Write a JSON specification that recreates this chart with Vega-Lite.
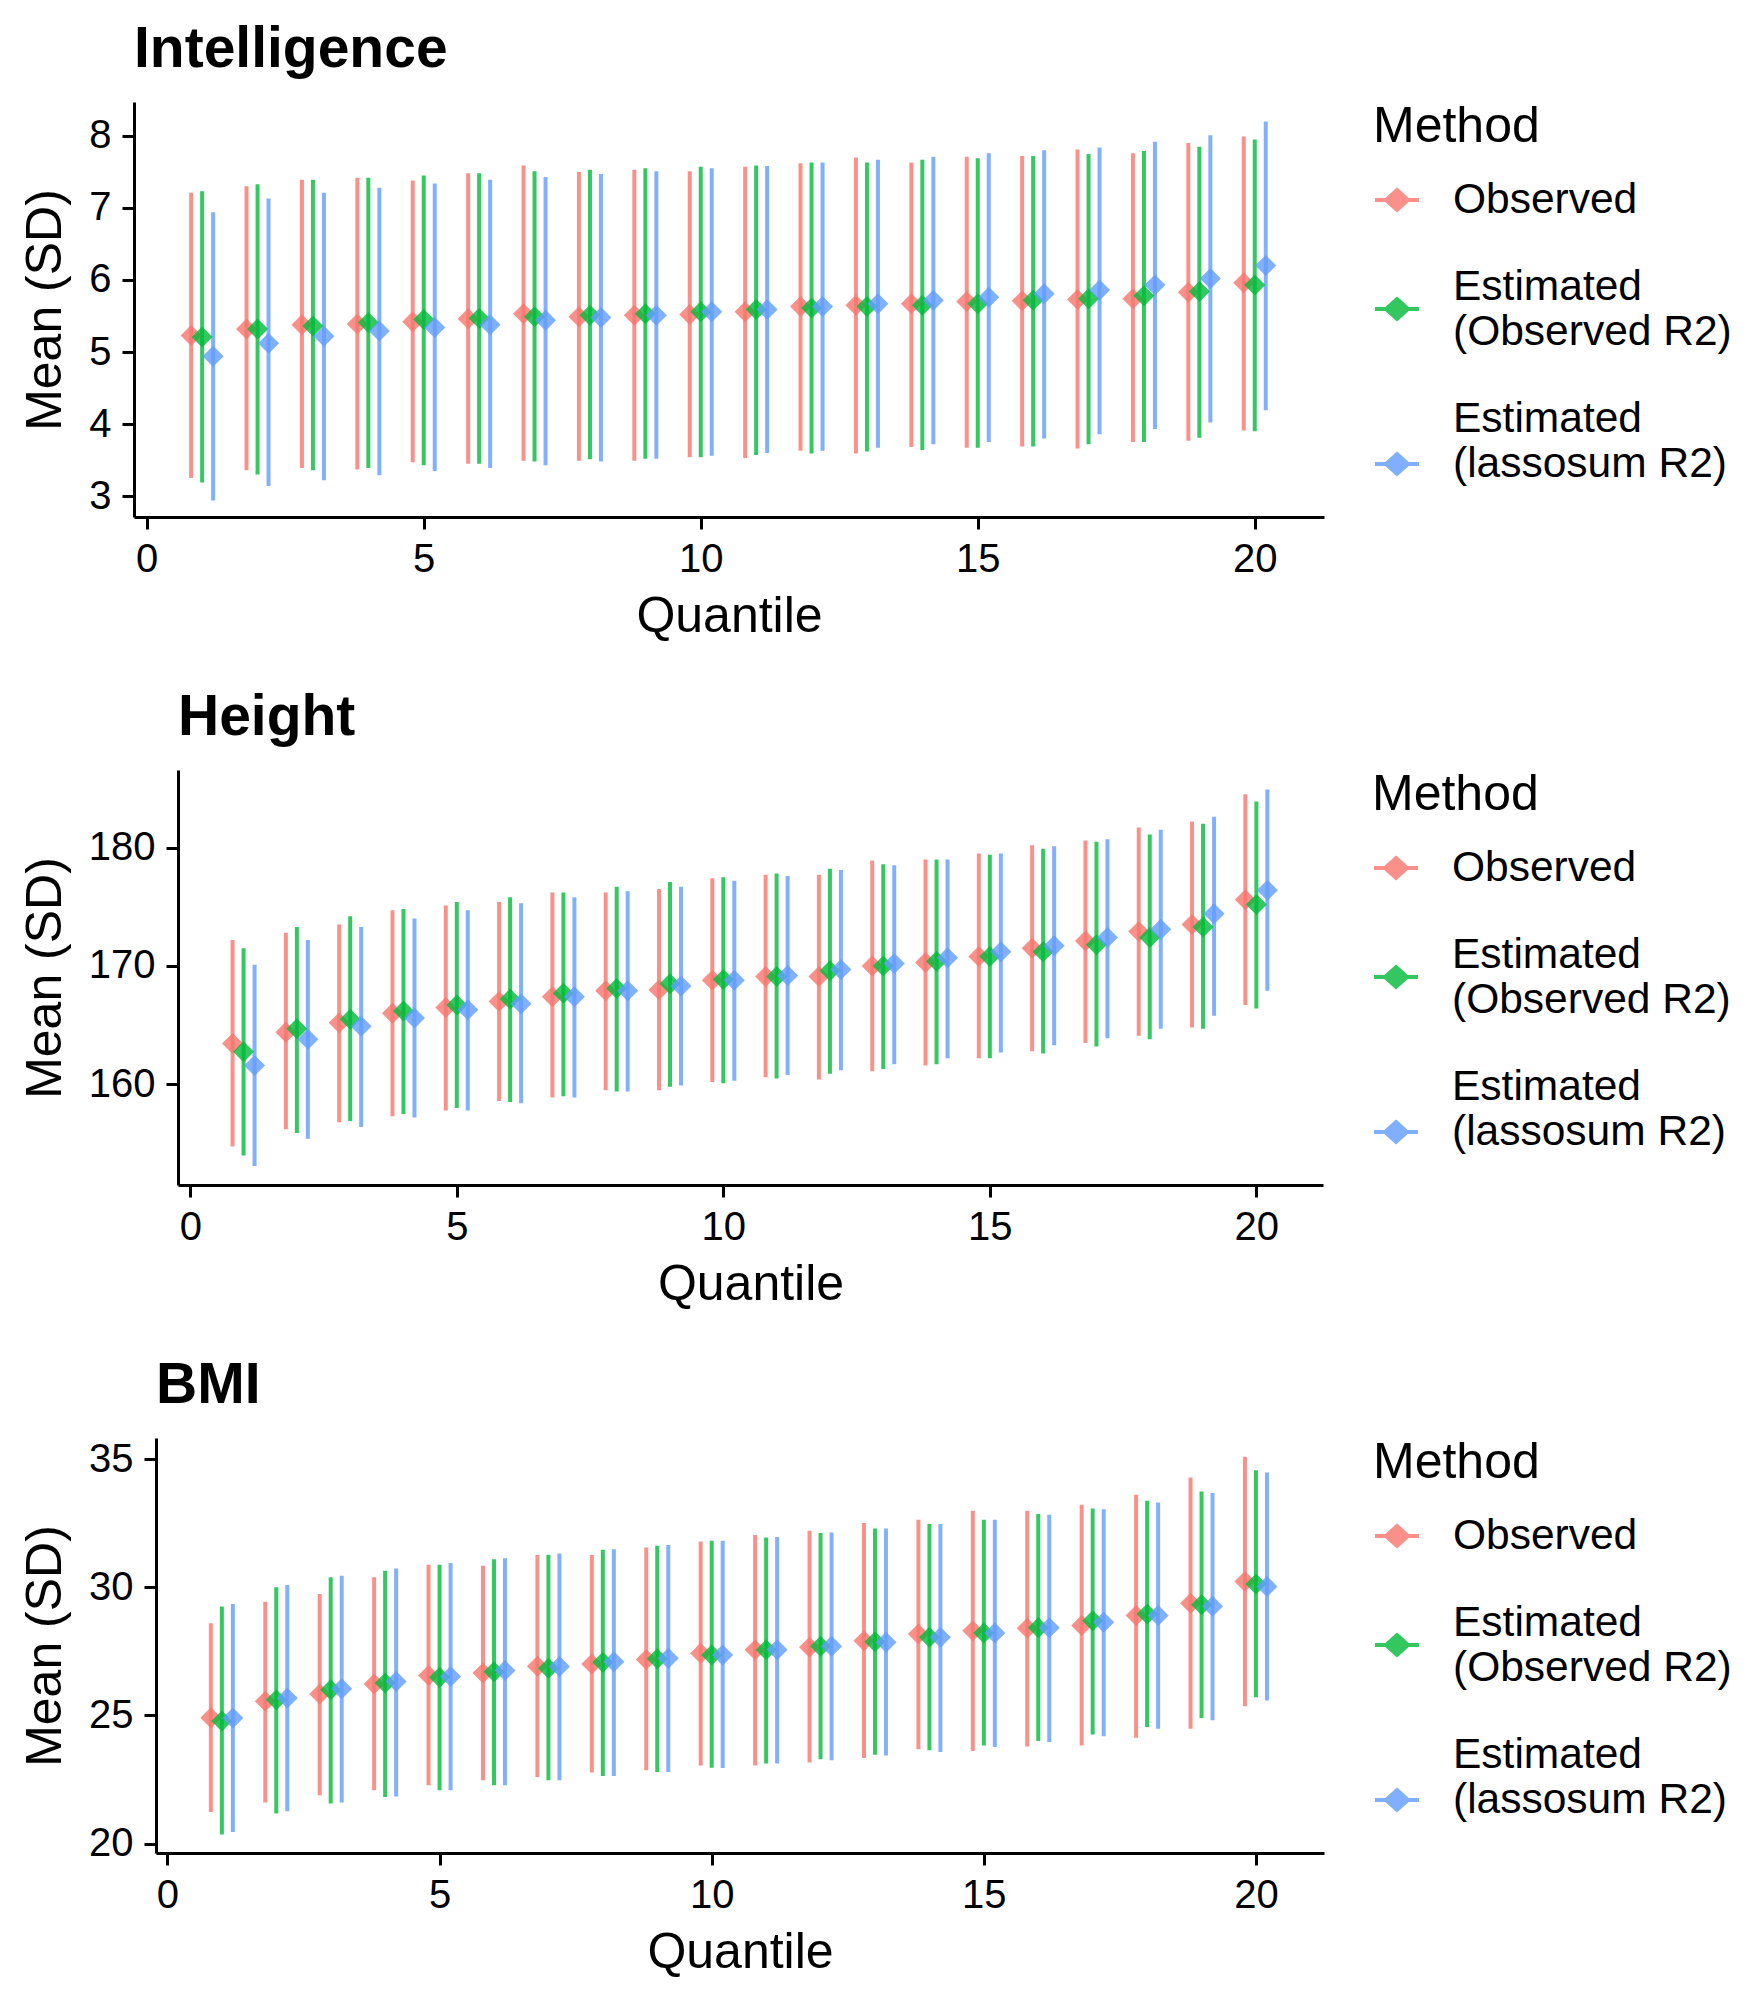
{
  "$schema": "https://vega.github.io/schema/vega-lite/v6.json",
  "padding": {"left": 19, "top": 21, "right": 5, "bottom": 5},
  "background": "white",
  "datasets": {
    "intel": [
      {"Quantile":1,"Method":"Observed","Mean":5.23,"Lower":3.25,"Upper":7.21},
      {"Quantile":1,"Method":"Estimated (Observed R2)","Mean":5.21,"Lower":3.19,"Upper":7.23},
      {"Quantile":1,"Method":"Estimated (lassosum R2)","Mean":4.94,"Lower":2.94,"Upper":6.94},
      {"Quantile":2,"Method":"Observed","Mean":5.32,"Lower":3.36,"Upper":7.30},
      {"Quantile":2,"Method":"Estimated (Observed R2)","Mean":5.32,"Lower":3.30,"Upper":7.33},
      {"Quantile":2,"Method":"Estimated (lassosum R2)","Mean":5.12,"Lower":3.14,"Upper":7.13},
      {"Quantile":3,"Method":"Observed","Mean":5.38,"Lower":3.39,"Upper":7.39},
      {"Quantile":3,"Method":"Estimated (Observed R2)","Mean":5.36,"Lower":3.36,"Upper":7.39},
      {"Quantile":3,"Method":"Estimated (lassosum R2)","Mean":5.22,"Lower":3.22,"Upper":7.21},
      {"Quantile":4,"Method":"Observed","Mean":5.39,"Lower":3.37,"Upper":7.42},
      {"Quantile":4,"Method":"Estimated (Observed R2)","Mean":5.41,"Lower":3.39,"Upper":7.42},
      {"Quantile":4,"Method":"Estimated (lassosum R2)","Mean":5.29,"Lower":3.29,"Upper":7.28},
      {"Quantile":5,"Method":"Observed","Mean":5.42,"Lower":3.47,"Upper":7.38},
      {"Quantile":5,"Method":"Estimated (Observed R2)","Mean":5.45,"Lower":3.43,"Upper":7.45},
      {"Quantile":5,"Method":"Estimated (lassosum R2)","Mean":5.34,"Lower":3.35,"Upper":7.34},
      {"Quantile":6,"Method":"Observed","Mean":5.46,"Lower":3.45,"Upper":7.48},
      {"Quantile":6,"Method":"Estimated (Observed R2)","Mean":5.47,"Lower":3.45,"Upper":7.48},
      {"Quantile":6,"Method":"Estimated (lassosum R2)","Mean":5.38,"Lower":3.39,"Upper":7.39},
      {"Quantile":7,"Method":"Observed","Mean":5.53,"Lower":3.49,"Upper":7.59},
      {"Quantile":7,"Method":"Estimated (Observed R2)","Mean":5.49,"Lower":3.48,"Upper":7.51},
      {"Quantile":7,"Method":"Estimated (lassosum R2)","Mean":5.44,"Lower":3.43,"Upper":7.43},
      {"Quantile":8,"Method":"Observed","Mean":5.49,"Lower":3.49,"Upper":7.50},
      {"Quantile":8,"Method":"Estimated (Observed R2)","Mean":5.51,"Lower":3.51,"Upper":7.53},
      {"Quantile":8,"Method":"Estimated (lassosum R2)","Mean":5.48,"Lower":3.48,"Upper":7.47},
      {"Quantile":9,"Method":"Observed","Mean":5.51,"Lower":3.49,"Upper":7.53},
      {"Quantile":9,"Method":"Estimated (Observed R2)","Mean":5.53,"Lower":3.52,"Upper":7.55},
      {"Quantile":9,"Method":"Estimated (lassosum R2)","Mean":5.51,"Lower":3.52,"Upper":7.51},
      {"Quantile":10,"Method":"Observed","Mean":5.52,"Lower":3.54,"Upper":7.51},
      {"Quantile":10,"Method":"Estimated (Observed R2)","Mean":5.56,"Lower":3.54,"Upper":7.57},
      {"Quantile":10,"Method":"Estimated (lassosum R2)","Mean":5.56,"Lower":3.56,"Upper":7.55},
      {"Quantile":11,"Method":"Observed","Mean":5.56,"Lower":3.53,"Upper":7.57},
      {"Quantile":11,"Method":"Estimated (Observed R2)","Mean":5.59,"Lower":3.57,"Upper":7.59},
      {"Quantile":11,"Method":"Estimated (lassosum R2)","Mean":5.59,"Lower":3.60,"Upper":7.58},
      {"Quantile":12,"Method":"Observed","Mean":5.63,"Lower":3.63,"Upper":7.62},
      {"Quantile":12,"Method":"Estimated (Observed R2)","Mean":5.61,"Lower":3.59,"Upper":7.63},
      {"Quantile":12,"Method":"Estimated (lassosum R2)","Mean":5.63,"Lower":3.63,"Upper":7.63},
      {"Quantile":13,"Method":"Observed","Mean":5.65,"Lower":3.59,"Upper":7.70},
      {"Quantile":13,"Method":"Estimated (Observed R2)","Mean":5.63,"Lower":3.62,"Upper":7.63},
      {"Quantile":13,"Method":"Estimated (lassosum R2)","Mean":5.67,"Lower":3.67,"Upper":7.67},
      {"Quantile":14,"Method":"Observed","Mean":5.67,"Lower":3.68,"Upper":7.63},
      {"Quantile":14,"Method":"Estimated (Observed R2)","Mean":5.65,"Lower":3.64,"Upper":7.67},
      {"Quantile":14,"Method":"Estimated (lassosum R2)","Mean":5.72,"Lower":3.72,"Upper":7.71},
      {"Quantile":15,"Method":"Observed","Mean":5.70,"Lower":3.67,"Upper":7.71},
      {"Quantile":15,"Method":"Estimated (Observed R2)","Mean":5.67,"Lower":3.67,"Upper":7.69},
      {"Quantile":15,"Method":"Estimated (lassosum R2)","Mean":5.76,"Lower":3.75,"Upper":7.76},
      {"Quantile":16,"Method":"Observed","Mean":5.71,"Lower":3.69,"Upper":7.72},
      {"Quantile":16,"Method":"Estimated (Observed R2)","Mean":5.72,"Lower":3.69,"Upper":7.72},
      {"Quantile":16,"Method":"Estimated (lassosum R2)","Mean":5.81,"Lower":3.80,"Upper":7.80},
      {"Quantile":17,"Method":"Observed","Mean":5.73,"Lower":3.66,"Upper":7.81},
      {"Quantile":17,"Method":"Estimated (Observed R2)","Mean":5.74,"Lower":3.72,"Upper":7.75},
      {"Quantile":17,"Method":"Estimated (lassosum R2)","Mean":5.86,"Lower":3.86,"Upper":7.84},
      {"Quantile":18,"Method":"Observed","Mean":5.74,"Lower":3.75,"Upper":7.76},
      {"Quantile":18,"Method":"Estimated (Observed R2)","Mean":5.78,"Lower":3.75,"Upper":7.79},
      {"Quantile":18,"Method":"Estimated (lassosum R2)","Mean":5.93,"Lower":3.93,"Upper":7.92},
      {"Quantile":19,"Method":"Observed","Mean":5.83,"Lower":3.77,"Upper":7.90},
      {"Quantile":19,"Method":"Estimated (Observed R2)","Mean":5.84,"Lower":3.81,"Upper":7.85},
      {"Quantile":19,"Method":"Estimated (lassosum R2)","Mean":6.02,"Lower":4.02,"Upper":8.01},
      {"Quantile":20,"Method":"Observed","Mean":5.96,"Lower":3.91,"Upper":7.99},
      {"Quantile":20,"Method":"Estimated (Observed R2)","Mean":5.93,"Lower":3.90,"Upper":7.95},
      {"Quantile":20,"Method":"Estimated (lassosum R2)","Mean":6.20,"Lower":4.19,"Upper":8.20}
    ],
    "height": [
      {"Quantile":1,"Method":"Observed","Mean":163.45,"Lower":154.75,"Upper":172.2},
      {"Quantile":1,"Method":"Estimated (Observed R2)","Mean":162.75,"Lower":154.0,"Upper":171.5},
      {"Quantile":1,"Method":"Estimated (lassosum R2)","Mean":161.6,"Lower":153.1,"Upper":170.1},
      {"Quantile":2,"Method":"Observed","Mean":164.4,"Lower":156.2,"Upper":172.8},
      {"Quantile":2,"Method":"Estimated (Observed R2)","Mean":164.7,"Lower":155.9,"Upper":173.3},
      {"Quantile":2,"Method":"Estimated (lassosum R2)","Mean":163.8,"Lower":155.4,"Upper":172.2},
      {"Quantile":3,"Method":"Observed","Mean":165.2,"Lower":156.8,"Upper":173.5},
      {"Quantile":3,"Method":"Estimated (Observed R2)","Mean":165.5,"Lower":156.9,"Upper":174.2},
      {"Quantile":3,"Method":"Estimated (lassosum R2)","Mean":164.9,"Lower":156.4,"Upper":173.3},
      {"Quantile":4,"Method":"Observed","Mean":166.0,"Lower":157.3,"Upper":174.7},
      {"Quantile":4,"Method":"Estimated (Observed R2)","Mean":166.2,"Lower":157.5,"Upper":174.8},
      {"Quantile":4,"Method":"Estimated (lassosum R2)","Mean":165.6,"Lower":157.2,"Upper":174.0},
      {"Quantile":5,"Method":"Observed","Mean":166.5,"Lower":157.8,"Upper":175.1},
      {"Quantile":5,"Method":"Estimated (Observed R2)","Mean":166.7,"Lower":158.0,"Upper":175.4},
      {"Quantile":5,"Method":"Estimated (lassosum R2)","Mean":166.3,"Lower":157.8,"Upper":174.7},
      {"Quantile":6,"Method":"Observed","Mean":167.0,"Lower":158.6,"Upper":175.4},
      {"Quantile":6,"Method":"Estimated (Observed R2)","Mean":167.2,"Lower":158.5,"Upper":175.8},
      {"Quantile":6,"Method":"Estimated (lassosum R2)","Mean":166.8,"Lower":158.4,"Upper":175.3},
      {"Quantile":7,"Method":"Observed","Mean":167.4,"Lower":158.9,"Upper":176.2},
      {"Quantile":7,"Method":"Estimated (Observed R2)","Mean":167.7,"Lower":159.0,"Upper":176.2},
      {"Quantile":7,"Method":"Estimated (lassosum R2)","Mean":167.4,"Lower":158.9,"Upper":175.8},
      {"Quantile":8,"Method":"Observed","Mean":167.9,"Lower":159.5,"Upper":176.2},
      {"Quantile":8,"Method":"Estimated (Observed R2)","Mean":168.1,"Lower":159.4,"Upper":176.7},
      {"Quantile":8,"Method":"Estimated (lassosum R2)","Mean":167.9,"Lower":159.4,"Upper":176.3},
      {"Quantile":9,"Method":"Observed","Mean":168.0,"Lower":159.5,"Upper":176.5},
      {"Quantile":9,"Method":"Estimated (Observed R2)","Mean":168.5,"Lower":159.8,"Upper":177.1},
      {"Quantile":9,"Method":"Estimated (lassosum R2)","Mean":168.3,"Lower":159.9,"Upper":176.7},
      {"Quantile":10,"Method":"Observed","Mean":168.8,"Lower":160.2,"Upper":177.4},
      {"Quantile":10,"Method":"Estimated (Observed R2)","Mean":168.85,"Lower":160.1,"Upper":177.5},
      {"Quantile":10,"Method":"Estimated (lassosum R2)","Mean":168.8,"Lower":160.3,"Upper":177.2},
      {"Quantile":11,"Method":"Observed","Mean":169.1,"Lower":160.6,"Upper":177.7},
      {"Quantile":11,"Method":"Estimated (Observed R2)","Mean":169.1,"Lower":160.5,"Upper":177.8},
      {"Quantile":11,"Method":"Estimated (lassosum R2)","Mean":169.2,"Lower":160.8,"Upper":177.6},
      {"Quantile":12,"Method":"Observed","Mean":169.1,"Lower":160.4,"Upper":177.7},
      {"Quantile":12,"Method":"Estimated (Observed R2)","Mean":169.6,"Lower":160.9,"Upper":178.2},
      {"Quantile":12,"Method":"Estimated (lassosum R2)","Mean":169.7,"Lower":161.2,"Upper":178.1},
      {"Quantile":13,"Method":"Observed","Mean":170.0,"Lower":161.1,"Upper":178.9},
      {"Quantile":13,"Method":"Estimated (Observed R2)","Mean":170.0,"Lower":161.3,"Upper":178.6},
      {"Quantile":13,"Method":"Estimated (lassosum R2)","Mean":170.2,"Lower":161.7,"Upper":178.5},
      {"Quantile":14,"Method":"Observed","Mean":170.3,"Lower":161.6,"Upper":179.0},
      {"Quantile":14,"Method":"Estimated (Observed R2)","Mean":170.4,"Lower":161.7,"Upper":179.0},
      {"Quantile":14,"Method":"Estimated (lassosum R2)","Mean":170.7,"Lower":162.2,"Upper":179.0},
      {"Quantile":15,"Method":"Observed","Mean":170.8,"Lower":162.2,"Upper":179.5},
      {"Quantile":15,"Method":"Estimated (Observed R2)","Mean":170.8,"Lower":162.2,"Upper":179.4},
      {"Quantile":15,"Method":"Estimated (lassosum R2)","Mean":171.2,"Lower":162.7,"Upper":179.5},
      {"Quantile":16,"Method":"Observed","Mean":171.5,"Lower":162.8,"Upper":180.2},
      {"Quantile":16,"Method":"Estimated (Observed R2)","Mean":171.2,"Lower":162.6,"Upper":179.9},
      {"Quantile":16,"Method":"Estimated (lassosum R2)","Mean":171.7,"Lower":163.3,"Upper":180.1},
      {"Quantile":17,"Method":"Observed","Mean":172.1,"Lower":163.5,"Upper":180.6},
      {"Quantile":17,"Method":"Estimated (Observed R2)","Mean":171.8,"Lower":163.2,"Upper":180.5},
      {"Quantile":17,"Method":"Estimated (lassosum R2)","Mean":172.4,"Lower":163.9,"Upper":180.7},
      {"Quantile":18,"Method":"Observed","Mean":172.9,"Lower":164.1,"Upper":181.7},
      {"Quantile":18,"Method":"Estimated (Observed R2)","Mean":172.4,"Lower":163.8,"Upper":181.1},
      {"Quantile":18,"Method":"Estimated (lassosum R2)","Mean":173.1,"Lower":164.7,"Upper":181.5},
      {"Quantile":19,"Method":"Observed","Mean":173.5,"Lower":164.8,"Upper":182.2},
      {"Quantile":19,"Method":"Estimated (Observed R2)","Mean":173.3,"Lower":164.7,"Upper":182.0},
      {"Quantile":19,"Method":"Estimated (lassosum R2)","Mean":174.4,"Lower":165.8,"Upper":182.6},
      {"Quantile":20,"Method":"Observed","Mean":175.6,"Lower":166.7,"Upper":184.5},
      {"Quantile":20,"Method":"Estimated (Observed R2)","Mean":175.2,"Lower":166.4,"Upper":183.9},
      {"Quantile":20,"Method":"Estimated (lassosum R2)","Mean":176.4,"Lower":167.9,"Upper":184.9}
    ],
    "bmi": [
      {"Quantile":1,"Method":"Observed","Mean":24.91,"Lower":21.23,"Upper":28.6},
      {"Quantile":1,"Method":"Estimated (Observed R2)","Mean":24.78,"Lower":20.35,"Upper":29.25},
      {"Quantile":1,"Method":"Estimated (lassosum R2)","Mean":24.9,"Lower":20.45,"Upper":29.35},
      {"Quantile":2,"Method":"Observed","Mean":25.55,"Lower":21.6,"Upper":29.44},
      {"Quantile":2,"Method":"Estimated (Observed R2)","Mean":25.61,"Lower":21.17,"Upper":30.0},
      {"Quantile":2,"Method":"Estimated (lassosum R2)","Mean":25.68,"Lower":21.26,"Upper":30.09},
      {"Quantile":3,"Method":"Observed","Mean":25.84,"Lower":21.88,"Upper":29.74},
      {"Quantile":3,"Method":"Estimated (Observed R2)","Mean":26.0,"Lower":21.56,"Upper":30.39},
      {"Quantile":3,"Method":"Estimated (lassosum R2)","Mean":26.04,"Lower":21.6,"Upper":30.45},
      {"Quantile":4,"Method":"Observed","Mean":26.23,"Lower":22.08,"Upper":30.39},
      {"Quantile":4,"Method":"Estimated (Observed R2)","Mean":26.27,"Lower":21.82,"Upper":30.65},
      {"Quantile":4,"Method":"Estimated (lassosum R2)","Mean":26.32,"Lower":21.84,"Upper":30.74},
      {"Quantile":5,"Method":"Observed","Mean":26.56,"Lower":22.27,"Upper":30.88},
      {"Quantile":5,"Method":"Estimated (Observed R2)","Mean":26.49,"Lower":22.08,"Upper":30.88},
      {"Quantile":5,"Method":"Estimated (lassosum R2)","Mean":26.52,"Lower":22.08,"Upper":30.95},
      {"Quantile":6,"Method":"Observed","Mean":26.66,"Lower":22.47,"Upper":30.84},
      {"Quantile":6,"Method":"Estimated (Observed R2)","Mean":26.71,"Lower":22.27,"Upper":31.1},
      {"Quantile":6,"Method":"Estimated (lassosum R2)","Mean":26.75,"Lower":22.27,"Upper":31.14},
      {"Quantile":7,"Method":"Observed","Mean":26.92,"Lower":22.6,"Upper":31.26},
      {"Quantile":7,"Method":"Estimated (Observed R2)","Mean":26.84,"Lower":22.47,"Upper":31.27},
      {"Quantile":7,"Method":"Estimated (lassosum R2)","Mean":26.91,"Lower":22.47,"Upper":31.32},
      {"Quantile":8,"Method":"Observed","Mean":27.01,"Lower":22.77,"Upper":31.26},
      {"Quantile":8,"Method":"Estimated (Observed R2)","Mean":27.08,"Lower":22.64,"Upper":31.47},
      {"Quantile":8,"Method":"Estimated (lassosum R2)","Mean":27.1,"Lower":22.64,"Upper":31.49},
      {"Quantile":9,"Method":"Observed","Mean":27.18,"Lower":22.86,"Upper":31.56},
      {"Quantile":9,"Method":"Estimated (Observed R2)","Mean":27.21,"Lower":22.79,"Upper":31.62},
      {"Quantile":9,"Method":"Estimated (lassosum R2)","Mean":27.23,"Lower":22.79,"Upper":31.65},
      {"Quantile":10,"Method":"Observed","Mean":27.43,"Lower":23.05,"Upper":31.79},
      {"Quantile":10,"Method":"Estimated (Observed R2)","Mean":27.36,"Lower":22.96,"Upper":31.82},
      {"Quantile":10,"Method":"Estimated (lassosum R2)","Mean":27.36,"Lower":22.95,"Upper":31.82},
      {"Quantile":11,"Method":"Observed","Mean":27.56,"Lower":23.05,"Upper":32.04},
      {"Quantile":11,"Method":"Estimated (Observed R2)","Mean":27.56,"Lower":23.12,"Upper":31.95},
      {"Quantile":11,"Method":"Estimated (lassosum R2)","Mean":27.56,"Lower":23.12,"Upper":31.97},
      {"Quantile":12,"Method":"Observed","Mean":27.66,"Lower":23.16,"Upper":32.21},
      {"Quantile":12,"Method":"Estimated (Observed R2)","Mean":27.7,"Lower":23.29,"Upper":32.12},
      {"Quantile":12,"Method":"Estimated (lassosum R2)","Mean":27.7,"Lower":23.25,"Upper":32.14},
      {"Quantile":13,"Method":"Observed","Mean":27.92,"Lower":23.34,"Upper":32.51},
      {"Quantile":13,"Method":"Estimated (Observed R2)","Mean":27.88,"Lower":23.47,"Upper":32.3},
      {"Quantile":13,"Method":"Estimated (lassosum R2)","Mean":27.86,"Lower":23.44,"Upper":32.3},
      {"Quantile":14,"Method":"Observed","Mean":28.18,"Lower":23.68,"Upper":32.64},
      {"Quantile":14,"Method":"Estimated (Observed R2)","Mean":28.05,"Lower":23.64,"Upper":32.47},
      {"Quantile":14,"Method":"Estimated (lassosum R2)","Mean":28.05,"Lower":23.57,"Upper":32.47},
      {"Quantile":15,"Method":"Observed","Mean":28.31,"Lower":23.61,"Upper":32.99},
      {"Quantile":15,"Method":"Estimated (Observed R2)","Mean":28.22,"Lower":23.83,"Upper":32.64},
      {"Quantile":15,"Method":"Estimated (lassosum R2)","Mean":28.22,"Lower":23.77,"Upper":32.64},
      {"Quantile":16,"Method":"Observed","Mean":28.4,"Lower":23.79,"Upper":32.99},
      {"Quantile":16,"Method":"Estimated (Observed R2)","Mean":28.42,"Lower":24.0,"Upper":32.86},
      {"Quantile":16,"Method":"Estimated (lassosum R2)","Mean":28.42,"Lower":23.96,"Upper":32.83},
      {"Quantile":17,"Method":"Observed","Mean":28.51,"Lower":23.83,"Upper":33.22},
      {"Quantile":17,"Method":"Estimated (Observed R2)","Mean":28.7,"Lower":24.26,"Upper":33.08},
      {"Quantile":17,"Method":"Estimated (lassosum R2)","Mean":28.64,"Lower":24.19,"Upper":33.05},
      {"Quantile":18,"Method":"Observed","Mean":28.9,"Lower":24.13,"Upper":33.61},
      {"Quantile":18,"Method":"Estimated (Observed R2)","Mean":28.96,"Lower":24.55,"Upper":33.38},
      {"Quantile":18,"Method":"Estimated (lassosum R2)","Mean":28.9,"Lower":24.48,"Upper":33.31},
      {"Quantile":19,"Method":"Observed","Mean":29.38,"Lower":24.48,"Upper":34.29},
      {"Quantile":19,"Method":"Estimated (Observed R2)","Mean":29.32,"Lower":24.9,"Upper":33.74},
      {"Quantile":19,"Method":"Estimated (lassosum R2)","Mean":29.26,"Lower":24.81,"Upper":33.68},
      {"Quantile":20,"Method":"Observed","Mean":30.23,"Lower":25.36,"Upper":35.1},
      {"Quantile":20,"Method":"Estimated (Observed R2)","Mean":30.13,"Lower":25.71,"Upper":34.57},
      {"Quantile":20,"Method":"Estimated (lassosum R2)","Mean":30.03,"Lower":25.58,"Upper":34.48}
    ]
  },
  "vconcat": [
    {
      "hconcat": [
        {"width": 1, "height": 1, "data": {"values": []}, "mark": "rule", "encoding": {}},
        {
          "title": "Intelligence",
          "width": 1190, "height": 415,
          "data": {"name": "intel"},
          "encoding": {
            "x": {"field": "Quantile", "type": "quantitative", "scale": {"domain": [-0.23, 21.25], "nice": false, "zero": false}, "axis": {"values": [0, 5, 10, 15, 20], "title": "Quantile"}}
          },
          "layer": [
            {"transform": [{"filter": "datum.Method == 'Observed'"}], "mark": {"type": "rule", "strokeWidth": 4, "opacity": 0.8, "strokeCap": "butt", "xOffset": -11},
             "encoding": {
               "y": {"field": "Lower", "type": "quantitative", "scale": {"domain": [2.71, 8.47], "nice": false, "zero": false}, "axis": {"values": [3, 4, 5, 6, 7, 8], "format": "d", "title": "Mean (SD)"}},
               "y2": {"field": "Upper"},
               "stroke": {"field": "Method", "type": "nominal", "scale": {"domain": ["Observed", "Estimated (Observed R2)", "Estimated (lassosum R2)"], "range": ["#F8766D", "#00BA38", "#619CFF"]}, "legend": {"title": "Method", "labelExpr": "datum.label == 'Observed' ? 'Observed' : ['Estimated', substring(datum.label, 10)]", "encode": {"labels": {"update": {"lineHeight": {"value": 45}, "dy": {"signal": "datum.value == 'Observed' ? 0 : datum.value == 'Estimated (Observed R2)' ? -22 : -45"}}}}}}
             }},
            {"transform": [{"filter": "datum.Method == 'Estimated (Observed R2)'"}], "mark": {"type": "rule", "strokeWidth": 4, "opacity": 0.8, "strokeCap": "butt", "xOffset": 0},
             "encoding": {"y": {"field": "Lower", "type": "quantitative"}, "y2": {"field": "Upper"}, "stroke": {"field": "Method", "type": "nominal"}}},
            {"transform": [{"filter": "datum.Method == 'Estimated (lassosum R2)'"}], "mark": {"type": "rule", "strokeWidth": 4, "opacity": 0.8, "strokeCap": "butt", "xOffset": 11},
             "encoding": {"y": {"field": "Lower", "type": "quantitative"}, "y2": {"field": "Upper"}, "stroke": {"field": "Method", "type": "nominal"}}},
            {"transform": [{"filter": "datum.Method == 'Observed'"}], "mark": {"type": "point", "shape": "diamond", "filled": true, "size": 441, "opacity": 0.8, "strokeWidth": 0, "xOffset": -11},
             "encoding": {
               "y": {"field": "Mean", "type": "quantitative"},
               "fill": {"field": "Method", "type": "nominal", "scale": {"domain": ["Observed", "Estimated (Observed R2)", "Estimated (lassosum R2)"], "range": ["#F8766D", "#00BA38", "#619CFF"]}, "legend": {"title": "Method", "labelExpr": "datum.label == 'Observed' ? 'Observed' : ['Estimated', substring(datum.label, 10)]", "encode": {"labels": {"update": {"lineHeight": {"value": 45}, "dy": {"signal": "datum.value == 'Observed' ? 0 : datum.value == 'Estimated (Observed R2)' ? -22 : -45"}}}}}},
               "stroke": {"field": "Method", "type": "nominal"}
             }},
            {"transform": [{"filter": "datum.Method == 'Estimated (Observed R2)'"}], "mark": {"type": "point", "shape": "diamond", "filled": true, "size": 441, "opacity": 0.8, "strokeWidth": 0, "xOffset": 0},
             "encoding": {"y": {"field": "Mean", "type": "quantitative"}, "fill": {"field": "Method", "type": "nominal"}, "stroke": {"field": "Method", "type": "nominal"}}},
            {"transform": [{"filter": "datum.Method == 'Estimated (lassosum R2)'"}], "mark": {"type": "point", "shape": "diamond", "filled": true, "size": 441, "opacity": 0.8, "strokeWidth": 0, "xOffset": 11},
             "encoding": {"y": {"field": "Mean", "type": "quantitative"}, "fill": {"field": "Method", "type": "nominal"}, "stroke": {"field": "Method", "type": "nominal"}}}
          ]
        }
      ],
      "spacing": 0,
      "resolve": {"scale": {"fill": "independent", "stroke": "independent"}, "legend": {"fill": "independent", "stroke": "independent"}}
    },
    {
      "hconcat": [
        {"width": 1, "height": 1, "data": {"values": []}, "mark": "rule", "encoding": {}},
        {
          "title": "Height",
          "width": 1145, "height": 415,
          "data": {"name": "height"},
          "encoding": {
            "x": {"field": "Quantile", "type": "quantitative", "scale": {"domain": [-0.23, 21.25], "nice": false, "zero": false}, "axis": {"values": [0, 5, 10, 15, 20], "title": "Quantile"}}
          },
          "layer": [
            {"transform": [{"filter": "datum.Method == 'Observed'"}], "mark": {"type": "rule", "strokeWidth": 4, "opacity": 0.8, "strokeCap": "butt", "xOffset": -11},
             "encoding": {
               "y": {"field": "Lower", "type": "quantitative", "scale": {"domain": [151.5, 186.55], "nice": false, "zero": false}, "axis": {"values": [160, 170, 180], "format": "d", "title": "Mean (SD)"}},
               "y2": {"field": "Upper"},
               "stroke": {"field": "Method", "type": "nominal", "scale": {"domain": ["Observed", "Estimated (Observed R2)", "Estimated (lassosum R2)"], "range": ["#F8766D", "#00BA38", "#619CFF"]}, "legend": {"title": "Method", "labelExpr": "datum.label == 'Observed' ? 'Observed' : ['Estimated', substring(datum.label, 10)]", "encode": {"labels": {"update": {"lineHeight": {"value": 45}, "dy": {"signal": "datum.value == 'Observed' ? 0 : datum.value == 'Estimated (Observed R2)' ? -22 : -45"}}}}}}
             }},
            {"transform": [{"filter": "datum.Method == 'Estimated (Observed R2)'"}], "mark": {"type": "rule", "strokeWidth": 4, "opacity": 0.8, "strokeCap": "butt", "xOffset": 0},
             "encoding": {"y": {"field": "Lower", "type": "quantitative"}, "y2": {"field": "Upper"}, "stroke": {"field": "Method", "type": "nominal"}}},
            {"transform": [{"filter": "datum.Method == 'Estimated (lassosum R2)'"}], "mark": {"type": "rule", "strokeWidth": 4, "opacity": 0.8, "strokeCap": "butt", "xOffset": 11},
             "encoding": {"y": {"field": "Lower", "type": "quantitative"}, "y2": {"field": "Upper"}, "stroke": {"field": "Method", "type": "nominal"}}},
            {"transform": [{"filter": "datum.Method == 'Observed'"}], "mark": {"type": "point", "shape": "diamond", "filled": true, "size": 441, "opacity": 0.8, "strokeWidth": 0, "xOffset": -11},
             "encoding": {
               "y": {"field": "Mean", "type": "quantitative"},
               "fill": {"field": "Method", "type": "nominal", "scale": {"domain": ["Observed", "Estimated (Observed R2)", "Estimated (lassosum R2)"], "range": ["#F8766D", "#00BA38", "#619CFF"]}, "legend": {"title": "Method", "labelExpr": "datum.label == 'Observed' ? 'Observed' : ['Estimated', substring(datum.label, 10)]", "encode": {"labels": {"update": {"lineHeight": {"value": 45}, "dy": {"signal": "datum.value == 'Observed' ? 0 : datum.value == 'Estimated (Observed R2)' ? -22 : -45"}}}}}},
               "stroke": {"field": "Method", "type": "nominal"}
             }},
            {"transform": [{"filter": "datum.Method == 'Estimated (Observed R2)'"}], "mark": {"type": "point", "shape": "diamond", "filled": true, "size": 441, "opacity": 0.8, "strokeWidth": 0, "xOffset": 0},
             "encoding": {"y": {"field": "Mean", "type": "quantitative"}, "fill": {"field": "Method", "type": "nominal"}, "stroke": {"field": "Method", "type": "nominal"}}},
            {"transform": [{"filter": "datum.Method == 'Estimated (lassosum R2)'"}], "mark": {"type": "point", "shape": "diamond", "filled": true, "size": 441, "opacity": 0.8, "strokeWidth": 0, "xOffset": 11},
             "encoding": {"y": {"field": "Mean", "type": "quantitative"}, "fill": {"field": "Method", "type": "nominal"}, "stroke": {"field": "Method", "type": "nominal"}}}
          ]
        }
      ],
      "spacing": 0,
      "resolve": {"scale": {"fill": "independent", "stroke": "independent"}, "legend": {"fill": "independent", "stroke": "independent"}}
    },
    {
      "hconcat": [
        {"width": 1, "height": 1, "data": {"values": []}, "mark": "rule", "encoding": {}},
        {
          "title": "BMI",
          "width": 1168, "height": 415,
          "data": {"name": "bmi"},
          "encoding": {
            "x": {"field": "Quantile", "type": "quantitative", "scale": {"domain": [-0.21, 21.25], "nice": false, "zero": false}, "axis": {"values": [0, 5, 10, 15, 20], "title": "Quantile"}}
          },
          "layer": [
            {"transform": [{"filter": "datum.Method == 'Observed'"}], "mark": {"type": "rule", "strokeWidth": 4, "opacity": 0.8, "strokeCap": "butt", "xOffset": -11},
             "encoding": {
               "y": {"field": "Lower", "type": "quantitative", "scale": {"domain": [19.63, 35.83], "nice": false, "zero": false}, "axis": {"values": [20, 25, 30, 35], "format": "d", "title": "Mean (SD)"}},
               "y2": {"field": "Upper"},
               "stroke": {"field": "Method", "type": "nominal", "scale": {"domain": ["Observed", "Estimated (Observed R2)", "Estimated (lassosum R2)"], "range": ["#F8766D", "#00BA38", "#619CFF"]}, "legend": {"title": "Method", "labelExpr": "datum.label == 'Observed' ? 'Observed' : ['Estimated', substring(datum.label, 10)]", "encode": {"labels": {"update": {"lineHeight": {"value": 45}, "dy": {"signal": "datum.value == 'Observed' ? 0 : datum.value == 'Estimated (Observed R2)' ? -22 : -45"}}}}}}
             }},
            {"transform": [{"filter": "datum.Method == 'Estimated (Observed R2)'"}], "mark": {"type": "rule", "strokeWidth": 4, "opacity": 0.8, "strokeCap": "butt", "xOffset": 0},
             "encoding": {"y": {"field": "Lower", "type": "quantitative"}, "y2": {"field": "Upper"}, "stroke": {"field": "Method", "type": "nominal"}}},
            {"transform": [{"filter": "datum.Method == 'Estimated (lassosum R2)'"}], "mark": {"type": "rule", "strokeWidth": 4, "opacity": 0.8, "strokeCap": "butt", "xOffset": 11},
             "encoding": {"y": {"field": "Lower", "type": "quantitative"}, "y2": {"field": "Upper"}, "stroke": {"field": "Method", "type": "nominal"}}},
            {"transform": [{"filter": "datum.Method == 'Observed'"}], "mark": {"type": "point", "shape": "diamond", "filled": true, "size": 441, "opacity": 0.8, "strokeWidth": 0, "xOffset": -11},
             "encoding": {
               "y": {"field": "Mean", "type": "quantitative"},
               "fill": {"field": "Method", "type": "nominal", "scale": {"domain": ["Observed", "Estimated (Observed R2)", "Estimated (lassosum R2)"], "range": ["#F8766D", "#00BA38", "#619CFF"]}, "legend": {"title": "Method", "labelExpr": "datum.label == 'Observed' ? 'Observed' : ['Estimated', substring(datum.label, 10)]", "encode": {"labels": {"update": {"lineHeight": {"value": 45}, "dy": {"signal": "datum.value == 'Observed' ? 0 : datum.value == 'Estimated (Observed R2)' ? -22 : -45"}}}}}},
               "stroke": {"field": "Method", "type": "nominal"}
             }},
            {"transform": [{"filter": "datum.Method == 'Estimated (Observed R2)'"}], "mark": {"type": "point", "shape": "diamond", "filled": true, "size": 441, "opacity": 0.8, "strokeWidth": 0, "xOffset": 0},
             "encoding": {"y": {"field": "Mean", "type": "quantitative"}, "fill": {"field": "Method", "type": "nominal"}, "stroke": {"field": "Method", "type": "nominal"}}},
            {"transform": [{"filter": "datum.Method == 'Estimated (lassosum R2)'"}], "mark": {"type": "point", "shape": "diamond", "filled": true, "size": 441, "opacity": 0.8, "strokeWidth": 0, "xOffset": 11},
             "encoding": {"y": {"field": "Mean", "type": "quantitative"}, "fill": {"field": "Method", "type": "nominal"}, "stroke": {"field": "Method", "type": "nominal"}}}
          ]
        }
      ],
      "spacing": 0,
      "resolve": {"scale": {"fill": "independent", "stroke": "independent"}, "legend": {"fill": "independent", "stroke": "independent"}}
    }
  ],
  "spacing": 48,
  "resolve": {
    "scale": {"fill": "independent", "stroke": "independent", "x": "independent", "y": "independent"},
    "legend": {"fill": "independent", "stroke": "independent"}
  },
  "config": {
    "font": "Liberation Sans",
    "view": {"stroke": null},
    "axis": {
      "grid": false, "domainColor": "black", "domainWidth": 3, "tickColor": "black", "tickWidth": 3, "tickSize": 12,
      "labelColor": "black", "labelFontSize": 40, "labelPadding": 11, "titleColor": "black", "titleFontSize": 50, "titleFontWeight": "normal"
    },
    "axisX": {"titlePadding": 12, "labelPadding": 10},
    "axisY": {"titlePadding": 18},
    "title": {"fontSize": 57, "fontWeight": "bold", "anchor": "start", "frame": "group", "color": "black", "offset": 23, "baseline": "alphabetic"},
    "legend": {
      "titleFontSize": 50, "titleFontWeight": "normal", "titleColor": "black", "labelFontSize": 42.5, "labelColor": "black",
      "symbolType": "M-1,0L1,0M0,-0.45L0.5,0L0,0.45L-0.5,0Z", "symbolSize": 1936, "symbolStrokeWidth": 4, "symbolOpacity": 0.8,
      "offset": 49, "padding": 0, "titlePadding": 24, "rowPadding": 44, "labelOffset": 32, "labelLimit": 450
    }
  }
}
